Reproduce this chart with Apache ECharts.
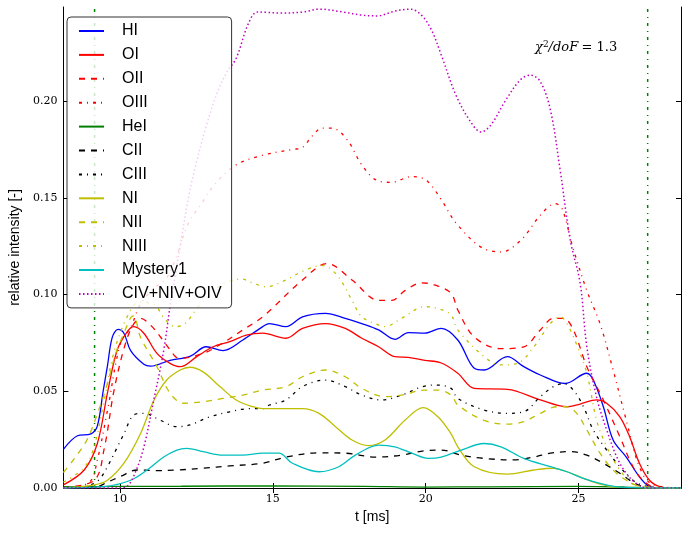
<!DOCTYPE html>
<html>
<head>
<meta charset="utf-8">
<script src="https://cdn.jsdelivr.net/npm/echarts@6/dist/echarts.min.js"></script>
<style>html,body{margin:0;padding:0;background:#fff}#c{width:689px;height:533px}</style>
</head>
<body>
<div id="c"></div>
<script>
// ---- data: [t (ms), relative intensity] ----
const xTicks = [10, 15, 20, 25];
const yTicks = [0, 0.05, 0.10, 0.15, 0.20];
const seriesNames = ['HI','OI','OII','OIII','HeI','CII','CIII','NI','NII','NIII','Mystery1','CIV+NIV+OIV'];
const boundaryLines = [9.17, 27.26];
const chiText = '1.3';

const HI = [[8.15,0.020],[8.61,0.027],[9.05,0.028],[9.26,0.032],[9.45,0.05],[9.59,0.063],[9.75,0.078],[9.94,0.082],[10.13,0.080],[10.35,0.071],[10.78,0.064],[11.0,0.063],[11.64,0.066],[12.29,0.068],[12.82,0.073],[13.37,0.071],[14.02,0.0765],[14.67,0.0834],[14.89,0.085],[15.43,0.0834],[15.97,0.0885],[16.72,0.0903],[17.37,0.0877],[17.91,0.085],[18.46,0.0817],[19.0,0.0768],[19.43,0.0803],[19.97,0.080],[20.51,0.0825],[21.05,0.0765],[21.59,0.0619],[21.91,0.061],[22.67,0.0679],[23.21,0.0627],[23.75,0.0584],[24.56,0.054],[25.27,0.0593],[25.48,0.0558],[25.81,0.042],[26.13,0.0248],[26.56,0.016],[26.99,0.0058],[27.32,0.0007],[27.6,0],[28.35,0]];
const OI = [[8.15,0.0016],[8.83,0.0093],[9.26,0.023],[9.59,0.049],[9.91,0.0713],[10.24,0.0808],[10.45,0.0834],[10.78,0.080],[11.21,0.0696],[11.64,0.0644],[11.97,0.0627],[12.51,0.0679],[13.05,0.073],[13.59,0.0756],[14.13,0.079],[14.67,0.080],[15.43,0.0774],[15.97,0.0825],[16.72,0.085],[17.37,0.0825],[17.91,0.0774],[18.46,0.073],[18.99,0.0679],[19.43,0.0675],[19.97,0.066],[20.51,0.0646],[21.05,0.0593],[21.59,0.0515],[22.67,0.051],[23.75,0.0455],[24.62,0.042],[25.05,0.0434],[25.59,0.0455],[25.92,0.0438],[26.35,0.0368],[26.67,0.0265],[26.99,0.0128],[27.32,0.004],[27.65,0.0007],[28.0,0],[28.35,0]];
const OII = [[8.15,0.0005],[9.16,0.004],[9.48,0.02],[9.8,0.05],[10.13,0.072],[10.40,0.0834],[10.67,0.0877],[11.05,0.0834],[11.48,0.0748],[11.81,0.068],[11.97,0.067],[12.72,0.0696],[13.37,0.075],[14.02,0.0817],[14.67,0.0885],[15.97,0.1075],[16.78,0.116],[17.59,0.1075],[18.46,0.097],[18.89,0.097],[19.32,0.102],[19.86,0.106],[20.29,0.105],[20.83,0.1006],[21.05,0.092],[21.59,0.078],[22.46,0.072],[23.21,0.073],[23.75,0.0817],[24.18,0.0877],[24.51,0.0877],[24.83,0.0817],[25.27,0.0627],[25.81,0.0455],[26.35,0.0265],[26.78,0.011],[27.17,0.003],[27.6,0],[28.35,0]];
const OIII = [[8.15,0],[9.0,0.003],[9.26,0.0145],[9.59,0.040],[10.02,0.075],[10.35,0.083],[10.67,0.095],[11.10,0.103],[11.5,0.108],[11.81,0.118],[12.24,0.137],[12.67,0.147],[13.10,0.157],[13.80,0.167],[14.67,0.172],[15.64,0.175],[15.97,0.176],[16.29,0.182],[16.62,0.186],[16.94,0.186],[17.43,0.180],[17.91,0.167],[18.40,0.159],[18.89,0.158],[19.54,0.161],[20.02,0.159],[20.51,0.149],[20.99,0.137],[21.81,0.1245],[22.46,0.122],[23.11,0.128],[23.75,0.141],[24.24,0.147],[24.47,0.144],[24.8,0.125],[25.27,0.102],[25.7,0.085],[26.13,0.061],[26.56,0.035],[26.99,0.011],[27.4,0.002],[28.35,0]];
const HeI = [[8.15,0.0006],[10,0.0008],[12,0.0009],[15,0.0011],[18,0.0008],[20,0.0005],[22,0.0006],[25,0.0008],[26.5,0.0005],[27.3,0.0001],[28.35,0]];
const CII = [[8.15,0],[9.2,0.0005],[9.59,0.003],[10.02,0.006],[10.56,0.0093],[11.21,0.009],[11.86,0.0093],[12.72,0.0102],[13.59,0.0114],[14.67,0.0128],[15.43,0.016],[16.51,0.0182],[17.37,0.018],[18.35,0.016],[19.21,0.017],[19.97,0.0193],[20.51,0.0196],[21.16,0.017],[21.91,0.0153],[22.89,0.0145],[23.54,0.016],[24.08,0.018],[24.73,0.0188],[25.27,0.017],[25.81,0.0128],[26.35,0.0076],[26.78,0.003],[27.2,0.0005],[28.35,0]];
const CIII = [[8.15,0],[8.9,0.001],[9.3,0.004],[9.59,0.011],[9.91,0.021],[10.13,0.028],[10.45,0.0377],[10.78,0.0386],[11.32,0.035],[11.86,0.0317],[12.29,0.0326],[12.94,0.0368],[13.59,0.0394],[14.24,0.041],[14.67,0.041],[14.89,0.0429],[15.43,0.0455],[15.97,0.0524],[16.72,0.0558],[17.37,0.0524],[17.91,0.048],[18.56,0.0455],[19.21,0.048],[19.97,0.0527],[20.40,0.0532],[20.83,0.0515],[21.05,0.0463],[21.91,0.0403],[22.67,0.0386],[23.21,0.0394],[23.75,0.0472],[24.18,0.0524],[24.51,0.054],[24.83,0.0506],[25.16,0.042],[25.48,0.03],[25.92,0.0196],[26.35,0.011],[26.78,0.004],[27.2,0.001],[28.35,0]];
const NI = [[8.15,0],[9.16,0.0016],[9.59,0.004],[10.13,0.0128],[10.67,0.028],[11.10,0.045],[11.53,0.0558],[11.97,0.061],[12.29,0.0624],[12.72,0.060],[13.27,0.0524],[13.80,0.0455],[14.35,0.042],[14.67,0.041],[15.97,0.041],[16.51,0.0386],[17.05,0.0317],[17.59,0.0248],[18.13,0.0219],[18.67,0.0248],[19.32,0.035],[19.92,0.0415],[20.40,0.0368],[20.83,0.028],[21.05,0.0213],[21.59,0.011],[22.67,0.0072],[23.54,0.0093],[24.18,0.0102],[24.62,0.0084],[25.16,0.005],[25.70,0.002],[26.35,0.0003],[28.35,0]];
const NII = [[8.15,0.008],[8.5,0.015],[8.92,0.0248],[9.3,0.040],[9.59,0.054],[9.87,0.070],[10.13,0.080],[10.35,0.088],[10.45,0.089],[10.67,0.078],[11.21,0.0627],[11.64,0.049],[12.08,0.0438],[12.72,0.0446],[13.37,0.0463],[14.02,0.048],[14.67,0.0506],[15.43,0.0524],[15.97,0.0575],[16.72,0.061],[17.37,0.0575],[17.91,0.0515],[18.67,0.0472],[19.21,0.048],[19.97,0.0506],[20.40,0.0506],[20.83,0.048],[21.05,0.0429],[21.91,0.035],[22.67,0.033],[23.21,0.0343],[23.75,0.0386],[24.29,0.042],[24.62,0.042],[24.94,0.0386],[25.27,0.030],[25.70,0.018],[26.13,0.0093],[26.56,0.004],[26.99,0.001],[28.35,0]];
const NIII = [[8.15,0.003],[8.8,0.01],[9.13,0.02],[9.48,0.045],[9.8,0.070],[10.24,0.0886],[10.62,0.096],[11.10,0.095],[11.48,0.087],[11.81,0.0834],[12.13,0.085],[12.56,0.0937],[12.99,0.1006],[13.43,0.106],[13.97,0.108],[14.35,0.106],[14.77,0.104],[15.43,0.1075],[15.97,0.112],[16.62,0.115],[17.1,0.11],[17.59,0.097],[17.91,0.0885],[18.46,0.0842],[18.67,0.0834],[19.21,0.0877],[19.97,0.0937],[20.40,0.0928],[20.83,0.0894],[21.05,0.0817],[21.91,0.0679],[22.46,0.0636],[23.0,0.0644],[23.54,0.073],[24.08,0.085],[24.40,0.0885],[24.62,0.085],[24.94,0.074],[25.27,0.0593],[25.59,0.035],[25.92,0.0213],[26.35,0.0093],[26.78,0.002],[27.2,0],[28.35,0]];
const Mystery1 = [[8.15,0],[9.48,0.0007],[10.35,0.004],[10.89,0.0093],[11.43,0.016],[11.86,0.0196],[12.18,0.0205],[12.72,0.0188],[13.37,0.017],[14.02,0.017],[14.67,0.018],[15.2,0.018],[15.64,0.0128],[16.51,0.0084],[17.16,0.011],[17.70,0.017],[18.46,0.0222],[18.99,0.0213],[19.54,0.018],[20.08,0.0153],[20.51,0.016],[21.16,0.0196],[21.91,0.023],[22.46,0.0213],[23.21,0.0153],[24.08,0.011],[24.62,0.0084],[25.16,0.005],[25.70,0.0024],[26.35,0.0005],[28.35,0]];
const CIVNIVOIV = [[8.15,0],[9.9,0],[10.24,0.001],[10.5,0.008],[10.78,0.021],[11.10,0.045],[11.43,0.071],[11.64,0.094],[11.81,0.11],[12.0,0.128],[12.24,0.150],[12.45,0.165],[12.82,0.187],[13.2,0.205],[13.5,0.215],[13.80,0.222],[14.2,0.240],[14.5,0.246],[15.3,0.2455],[16.0,0.246],[16.5,0.2475],[17.3,0.246],[17.9,0.2444],[18.4,0.244],[19.0,0.2465],[19.5,0.2475],[19.86,0.2444],[20.19,0.2367],[20.51,0.2238],[20.99,0.203],[21.48,0.189],[21.81,0.184],[22.13,0.1876],[22.62,0.2005],[23.1,0.211],[23.43,0.2134],[23.75,0.210],[24.08,0.1953],[24.40,0.164],[24.73,0.128],[25.05,0.106],[25.27,0.073],[25.59,0.047],[25.92,0.030],[26.35,0.0128],[26.83,0.003],[27.3,0],[28.35,0]];

const seriesData = [HI, OI, OII, OIII, HeI, CII, CIII, NI, NII, NIII, Mystery1, CIVNIVOIV];
const colors = ['#0000ff','#ff0000','#ff0000','#ff0000','#008000','#000000','#000000','#bfbf00','#bfbf00','#bfbf00','#00bfbf','#bf00bf'];
const SOLID = 'solid', DASH = [6,6], DASHDOT = [3,5,1,5], DOT = [1.5,2.5];
const styles = [SOLID, SOLID, DASH, DASHDOT, SOLID, DASH, DASHDOT, SOLID, DASH, DASHDOT, SOLID, DOT];
const widths = [1.3,1.3,1.3,1.3,1.3,1.3,1.3,1.3,1.3,1.3,1.3,1.5];

const XMIN = 8.15, XMAX = 28.35, YMAX = 0.2486;
const serif = "'DejaVu Serif', serif";
const sans = "'Liberation Sans', Arial, sans-serif";

const series = seriesNames.map((n, i) => ({
  name: n, type: 'line', data: seriesData[i], symbol: 'none', smooth: 0.35,
  lineStyle: { color: colors[i], width: widths[i], type: styles[i] },
  itemStyle: { color: colors[i] }, z: 3
}));
boundaryLines.forEach(b => series.push({
  type: 'line', data: [[b, 0], [b, YMAX]], symbol: 'none', silent: true,
  lineStyle: { color: '#008000', width: 1.5, type: DASHDOT }, z: 2
}));

const axisCommon = {
  axisLine: { show: true, lineStyle: { color: '#000', width: 1 } },
  splitLine: { show: false }
};

const chart = echarts.init(document.getElementById('c'), null, { renderer: 'canvas' });
chart.setOption({
  animation: false,
  backgroundColor: '#fff',
  grid: { left: 59, right: 8, top: 7, bottom: 45, containLabel: false },
  xAxis: [
    Object.assign({}, axisCommon, {
      type: 'value', min: XMIN, max: XMAX, position: 'bottom',
      name: 't [ms]', nameLocation: 'middle', nameGap: 21,
      nameTextStyle: { fontFamily: sans, fontSize: 14, color: '#000' },
      axisTick: { show: true, inside: true, length: 5, lineStyle: { color: '#000' }, customValues: xTicks },
      axisLabel: { fontFamily: serif, fontSize: 11, color: '#000', margin: 6, customValues: xTicks, formatter: v => String(v) }
    }),
    Object.assign({}, axisCommon, {
      type: 'value', min: XMIN, max: XMAX, position: 'top',
      axisTick: { show: true, inside: true, length: 5, lineStyle: { color: '#000' }, customValues: xTicks },
      axisLabel: { show: false }
    })
  ],
  yAxis: [
    Object.assign({}, axisCommon, {
      type: 'value', min: 0, max: YMAX, position: 'left',
      name: 'relative intensity [-]', nameLocation: 'middle', nameGap: 35,
      nameTextStyle: { fontFamily: sans, fontSize: 14, color: '#000' },
      axisTick: { show: true, inside: true, length: 5, lineStyle: { color: '#000' }, customValues: yTicks },
      axisLabel: { fontFamily: serif, fontSize: 11, color: '#000', margin: 6, customValues: yTicks, formatter: v => v.toFixed(2) }
    }),
    Object.assign({}, axisCommon, {
      type: 'value', min: 0, max: YMAX, position: 'right',
      axisTick: { show: true, inside: true, length: 5, lineStyle: { color: '#000' }, customValues: yTicks },
      axisLabel: { show: false }
    })
  ],
  legend: {
    data: seriesNames, orient: 'vertical', left: 67, top: 17,
    padding: [6, 10, 6, 11], itemWidth: 25, itemHeight: 14, itemGap: 7.9,
    itemStyle: { opacity: 0 },
    backgroundColor: 'rgba(255,255,255,0.8)', borderColor: '#333', borderWidth: 1, borderRadius: 4,
    textStyle: { fontFamily: sans, fontSize: 16, color: '#000', padding: [0, 0, 0, 13] },
    selectedMode: false, z: 10
  },
  graphic: [{
    type: 'text', left: 535, top: 40, z: 10,
    style: {
      text: '{i|χ}{s|2}{i|/doF} {n|= ' + chiText + '}',
      rich: {
        i: { fontFamily: serif, fontStyle: 'italic', fontSize: 13, fill: '#000' },
        s: { fontFamily: serif, fontSize: 9, fill: '#000', verticalAlign: 'top', padding: [0, 0, 6, 0] },
        n: { fontFamily: serif, fontSize: 13, fill: '#000' }
      }
    }
  }],
  series: series
});
</script>
</body>
</html>
